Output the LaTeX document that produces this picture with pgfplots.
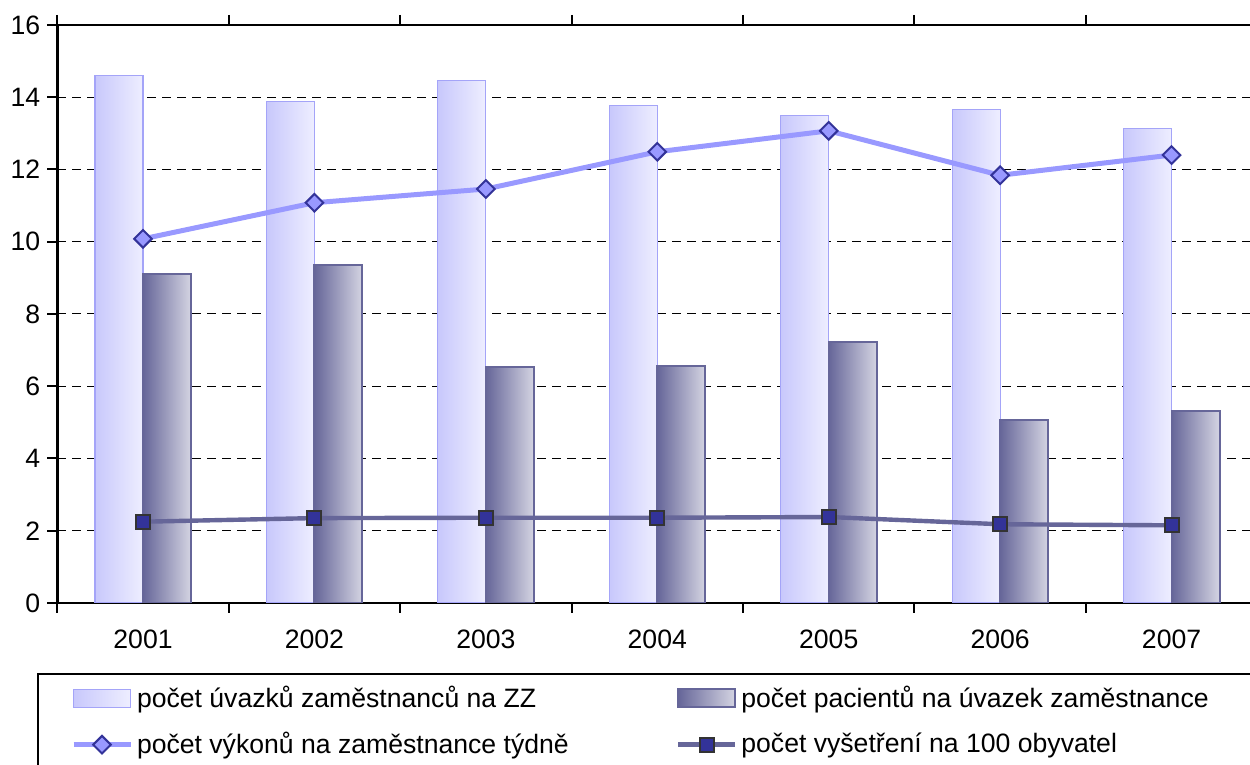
\documentclass[border=0pt]{standalone}
\usepackage{pgfplots}
\pgfplotsset{compat=1.18}
\usepackage{fontspec}
\setmainfont{Liberation Sans}
\definecolor{sAl}{HTML}{C8C8FC}
\definecolor{sAr}{HTML}{EEEEFF}
\definecolor{sAb}{HTML}{A4A4F8}
\definecolor{sBl}{HTML}{666699}
\definecolor{sBr}{HTML}{D4D4E2}
\definecolor{sBb}{HTML}{666699}
\definecolor{lA}{HTML}{9999FF}
\definecolor{lAm}{HTML}{333399}
\definecolor{lB}{HTML}{666699}
\definecolor{lBm}{HTML}{333399}
\pgfplotsset{
  lineleg/.style={legend image code/.code={\draw[##1, mark repeat=2, mark phase=2] plot coordinates {(0pt,0pt) (14.25pt,0pt) (28.5pt,0pt)};}},
  barA/.style={ybar, bar width=24pt, bar shift=-12pt, left color=sAl, right color=sAr, draw=sAb, line width=0.6pt,
    legend image code/.code={\draw[left color=sAl, right color=sAr, draw=sAb, line width=0.6pt] (0pt,-4.5pt) rectangle (28.5pt,4.5pt);}},
  barB/.style={ybar, bar width=24pt, bar shift=12pt, left color=sBl, right color=sBr, draw=sBb, line width=1pt,
    legend image code/.code={\draw[left color=sBl, right color=sBr, draw=sBb, line width=1pt] (0pt,-4.5pt) rectangle (28.5pt,4.5pt);}},
}
\begin{document}
\begin{tikzpicture}[font=\fontsize{13.3}{16}\selectfont]
\useasboundingbox (0,0) rectangle (625pt,382.5pt);
\begin{axis}[
  at={(28.65pt,81pt)}, anchor=south west,
  scale only axis, width=600pt, height=289pt,
  xmin=-0.5, xmax=6.5, ymin=0, ymax=16,
  xtick={0,...,6},
  xticklabels={2001,2002,2003,2004,2005,2006,2007},
  minor xtick={-0.5,0.5,1.5,2.5,3.5,4.5,5.5,6.5},
  ytick={0,2,...,16},
  tick align=outside,
  major tick length=5pt, minor tick length=5pt,
  major x tick style={draw=none},
  y tick style={line width=1pt, black},
  minor x tick style={line width=1pt, black},
  axis line style={line width=1.3pt, black},
  ymajorgrids,
  major grid style={black, line width=0.5pt, dash pattern=on 4.5pt off 3pt},
  /pgf/number format/assume math mode=true,
  xticklabel style={yshift=-5pt},
  legend columns=2,
  legend cell align=left,
  legend style={at={(-0.0169,-0.1211)}, anchor=north west, draw=black, line width=1pt,
    inner xsep=16.5pt, inner ysep=4pt, row sep=7pt,
    font=\fontsize{13.3}{16}\selectfont,
  },
]
% series 1 bars (one path per bar so each has its own gradient)
\addplot[barA] coordinates {(0,14.60)};
\addlegendentry{\makebox[267.5pt][l]{počet úvazků zaměstnanců na ZZ}}
\addplot[barB] coordinates {(0,9.11)};
\addlegendentry{\makebox[300pt][l]{počet pacientů na úvazek zaměstnance}}
\addplot[barA, forget plot] coordinates {(1,13.89)};
\addplot[barA, forget plot] coordinates {(2,14.47)};
\addplot[barA, forget plot] coordinates {(3,13.78)};
\addplot[barA, forget plot] coordinates {(4,13.50)};
\addplot[barA, forget plot] coordinates {(5,13.67)};
\addplot[barA, forget plot] coordinates {(6,13.13)};
\addplot[barB, forget plot] coordinates {(1,9.36)};
\addplot[barB, forget plot] coordinates {(2,6.53)};
\addplot[barB, forget plot] coordinates {(3,6.57)};
\addplot[barB, forget plot] coordinates {(4,7.22)};
\addplot[barB, forget plot] coordinates {(5,5.07)};
\addplot[barB, forget plot] coordinates {(6,5.32)};
\addplot[lA, line width=2.5pt, mark=diamond*, mark size=4.4pt,
  mark options={fill=lA, draw=lAm, line width=1pt, xscale=1.333}, lineleg]
  coordinates {(0,10.08) (1,11.08) (2,11.46) (3,12.49) (4,13.07) (5,11.84) (6,12.40)};
\addlegendentry{počet výkonů na zaměstnance týdně}
\addplot[lB, line width=2.2pt, mark=square*, mark size=3.5pt,
  mark options={fill=lBm, draw=black!80, line width=1pt}, lineleg]
  coordinates {(0,2.25) (1,2.35) (2,2.36) (3,2.36) (4,2.38) (5,2.18) (6,2.15)};
\addlegendentry{počet vyšetření na 100 obyvatel}
\end{axis}
\end{tikzpicture}
\end{document}
